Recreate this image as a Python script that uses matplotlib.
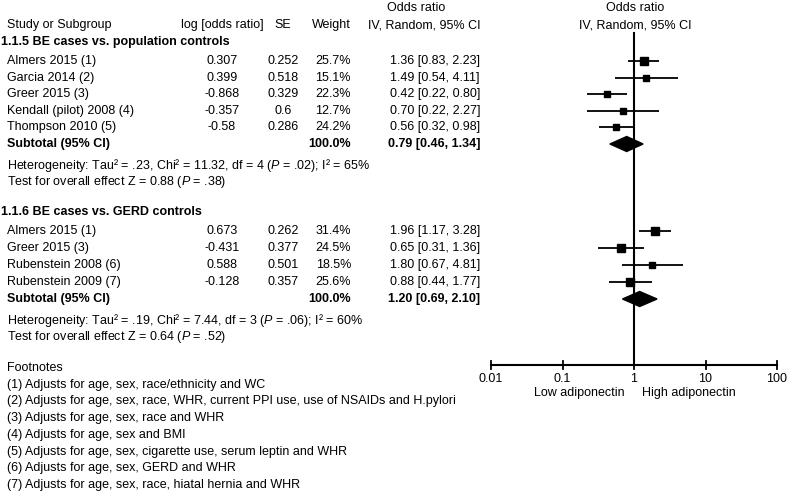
import numpy as np
import matplotlib
matplotlib.use("Agg")
from matplotlib import pyplot as plt
from matplotlib.patches import Polygon

plt.rcParams['font.family'] = ['Liberation Sans', 'DejaVu Sans']
plt.rcParams['mathtext.fontset'] = 'custom'
plt.rcParams['mathtext.rm'] = 'Liberation Sans'
plt.rcParams['mathtext.it'] = 'Liberation Sans:italic'

# group 1.1.5
g1_title = '1.1.5 BE cases vs. population controls'
g1_names = ['Almers 2015 (1)', 'Garcia 2014 (2)', 'Greer 2015 (3)',
            'Kendall (pilot) 2008 (4)', 'Thompson 2010 (5)']
g1_logor = ['0.307', '0.399', '-0.868', '-0.357', '-0.58']
g1_se = ['0.252', '0.518', '0.329', '0.6', '0.286']
g1_weight = [25.7, 15.1, 22.3, 12.7, 24.2]
g1_or = [1.36, 1.49, 0.42, 0.70, 0.56]
g1_lo = [0.83, 0.54, 0.22, 0.22, 0.32]
g1_hi = [2.23, 4.11, 0.80, 2.27, 0.98]
g1_total = (0.79, 0.46, 1.34)
g1_het = 'Heterogeneity: Tau² = .23, Chi² = 11.32, df = 4 ($P$ = .02); I² = 65%'
g1_test = 'Test for overall effect Z = 0.88 ($P$ = .38)'

# group 1.1.6
g2_title = '1.1.6 BE cases vs. GERD controls'
g2_names = ['Almers 2015 (1)', 'Greer 2015 (3)', 'Rubenstein 2008 (6)',
            'Rubenstein 2009 (7)']
g2_logor = ['0.673', '-0.431', '0.588', '-0.128']
g2_se = ['0.262', '0.377', '0.501', '0.357']
g2_weight = [31.4, 24.5, 18.5, 25.6]
g2_or = [1.96, 0.65, 1.80, 0.88]
g2_lo = [1.17, 0.31, 0.67, 0.44]
g2_hi = [3.28, 1.36, 4.81, 1.77]
g2_total = (1.20, 0.69, 2.10)
g2_het = 'Heterogeneity: Tau² = .19, Chi² = 7.44, df = 3 ($P$ = .06); I² = 60%'
g2_test = 'Test for overall effect Z = 0.64 ($P$ = .52)'

footnotes = ['Footnotes',
             '(1) Adjusts for age, sex, race/ethnicity and WC',
             '(2) Adjusts for age, sex, race, WHR, current PPI use, use of NSAIDs and H.pylori',
             '(3) Adjusts for age, sex, race and WHR',
             '(4) Adjusts for age, sex and BMI',
             '(5) Adjusts for age, sex, cigarette use, serum leptin and WHR',
             '(6) Adjusts for age, sex, GERD and WHR',
             '(7) Adjusts for age, sex, race, hiatal hernia and WHR']

tick_vals = [0.01, 0.1, 1, 10, 100]
tick_labels = ['0.01', '0.1', '1', '10', '100']

W, H = 787, 494
fs = 9
fig = plt.figure(figsize=(W / 100, H / 100), dpi=100)
ax0 = fig.add_axes([0, 0, 1, 1])
ax0.set_xlim(0, W)
ax0.set_ylim(H, 0)
ax0.axis('off')

fx0, fx1 = 491, 777
ax = fig.add_axes([fx0 / W, 0, (fx1 - fx0) / W, 1])
ax.set_xscale('log')
ax.set_xlim(0.01, 100)
ax.set_ylim(H, 0)
ax.axis('off')


def txt(x, y, s, ha='left', bold=False):
    ax0.text(x, y, s, ha=ha, va='center', fontsize=fs,
             fontweight='bold' if bold else 'normal')


# headers
txt(416, 8, 'Odds ratio', ha='center')
txt(7, 25, 'Study or Subgroup')
txt(222, 25, 'log [odds ratio]', ha='center')
txt(283, 25, 'SE', ha='center')
txt(351, 25, 'Weight', ha='right')
txt(480, 25, 'IV, Random, 95% CI', ha='right')
txt(635, 8, 'Odds ratio', ha='center')
txt(635, 25, 'IV, Random, 95% CI', ha='center')


def group(y0, step, title, names, logor, se, weight, orr, lo, hi, total, het, test):
    txt(1, y0, title, bold=True)
    for i, n in enumerate(names):
        y = y0 + 19 + step * i
        txt(7, y, n)
        txt(222, y, logor[i], ha='center')
        txt(283, y, se[i], ha='center')
        txt(351, y, '%.1f%%' % weight[i], ha='right')
        txt(480, y, '%.2f [%.2f, %.2f]' % (orr[i], lo[i], hi[i]), ha='right')
        ax.plot([lo[i], hi[i]], [y, y], color='black', lw=1.3,
                solid_capstyle='butt')
        ax.plot([orr[i]], [y], marker='s', color='black', linestyle='none',
                markersize=1.42 * np.sqrt(weight[i]) * 0.72)
    ys = y0 + 19 + step * len(names)
    txt(7, ys, 'Subtotal (95% CI)', bold=True)
    txt(351, ys, '%.1f%%' % sum(weight), ha='right', bold=True)
    txt(480, ys, '%.2f [%.2f, %.2f]' % total, ha='right', bold=True)
    m, l, h = total
    ax.add_patch(Polygon([(l, ys), (m, ys - 7.5), (h, ys), (m, ys + 7.5)],
                         closed=True, color='black'))
    txt(7, ys + 21.5, het)
    txt(7, ys + 38, test)


group(42, 16.6, g1_title, g1_names, g1_logor, g1_se, g1_weight, g1_or, g1_lo,
      g1_hi, g1_total, g1_het, g1_test)
group(212, 17, g2_title, g2_names, g2_logor, g2_se, g2_weight, g2_or, g2_lo,
      g2_hi, g2_total, g2_het, g2_test)

# footnotes
for i, f in enumerate(footnotes):
    txt(7, 368 + 16.7 * i, f)

# forest axis
ax.plot([1, 1], [33, 365], color='black', lw=1.5, clip_on=False)
ax.plot([0.01, 100], [365, 365], color='black', lw=1.5, clip_on=False)
for v, lab in zip(tick_vals, tick_labels):
    ax.plot([v, v], [361, 369], color='black', lw=1.3, clip_on=False)
    ax.text(v, 378.5, lab, ha='center', va='center', fontsize=fs, clip_on=False)
ax.text(0.75, 393, 'Low adiponectin', ha='right', va='center', fontsize=fs)
ax.text(1.3, 393, 'High adiponectin', ha='left', va='center', fontsize=fs)

fig.savefig('out.png', dpi=100)
